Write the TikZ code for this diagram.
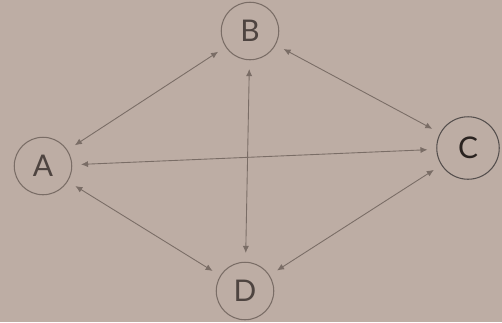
\documentclass[tikz,border=0pt]{standalone}
\usepackage{fontspec}
\setmainfont{Lato}
\usetikzlibrary{arrows.meta}
\definecolor{bg}{HTML}{BDADA4}
\definecolor{ln}{HTML}{7A6D66}
\definecolor{tx}{HTML}{4E4440}
\definecolor{tc}{HTML}{2A2320}
\begin{document}
\begin{tikzpicture}[x=0.02cm,y=-0.02cm,
  vert/.style={circle,draw=ln,line width=0.6pt,minimum size=1.15cm,inner sep=0pt,text=tx,font=\fontsize{17}{19}\selectfont},
  link/.style={draw=ln,line width=0.5pt,{Latex[length=4pt,width=3.5pt]}-{Latex[length=4pt,width=3.5pt]},shorten <=5pt,shorten >=5pt}]
\fill[bg] (0,0) rectangle (502,322);
\useasboundingbox (0,0) rectangle (502,322);
\node[vert] (A) at (43,166) {A};
\node[vert] (B) at (250,31) {B};
\node[vert,draw=tc!80,minimum size=1.25cm,text=tc] (C) at (468,148) {C};
\node[vert] (D) at (245,291) {D};
\draw[link] (A) -- (B);
\draw[link] (A) -- (C);
\draw[link] (A) -- (D);
\draw[link] (B) -- (C);
\draw[link] (B) -- (D);
\draw[link] (D) -- (C);
\end{tikzpicture}
\end{document}
